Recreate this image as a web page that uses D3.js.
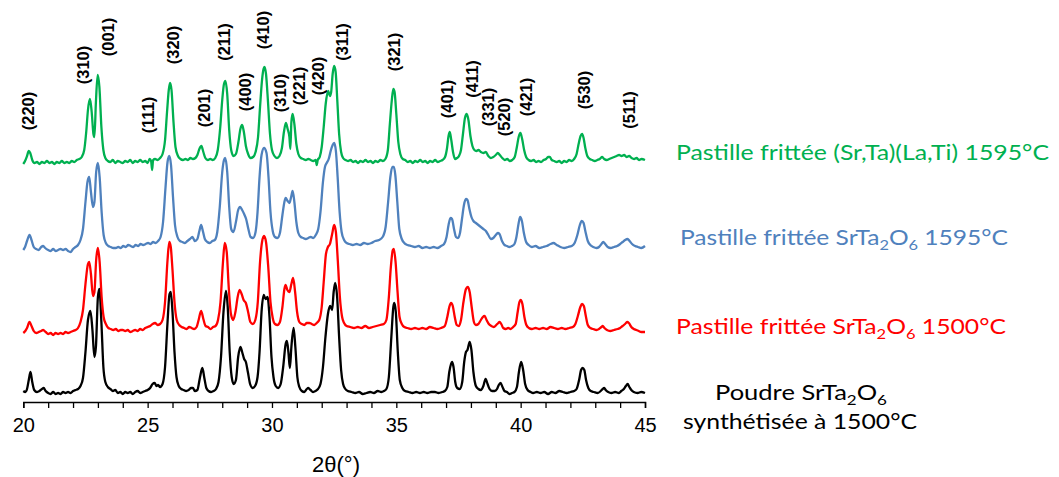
<!DOCTYPE html>
<html><head><meta charset="utf-8">
<script src="https://cdn.jsdelivr.net/npm/d3@7"></script>
<style>body{margin:0;background:#fff}svg{display:block}</style>
</head><body>
<svg id="c" width="1059" height="477"></svg>
<script>
// ---- data (2θ in degrees, relative intensity in arbitrary units) ----
const xTicksMajor = [20, 25, 30, 35, 40, 45];
const seriesNames = ["Poudre SrTa2O6 synthétisée à 1500°C", "Pastille frittée SrTa2O6 1500°C", "Pastille frittée SrTa2O6 1595°C", "Pastille frittée (Sr,Ta)(La,Ti) 1595°C"];
const seriesOffsets = [10, 70, 155, 240];
const seriesColors = ["#000000", "#FF0000", "#4F81BD", "#00B050"];

const blackPowder1500 = [[20.00,1],[20.08,0],[20.15,3],[20.22,12],[20.29,20],[20.36,10],[20.44,2],[20.55,0],[20.65,1],[20.75,3],[20.82,4],[20.9,1],[21.0,-1],[21.1,-2],[21.2,0],[21.3,-2],[21.4,-1],[21.5,-2],[21.6,0],[21.7,-1],[21.8,0],[21.9,-1],[22.0,1],[22.1,2],[22.2,3],[22.3,6],[22.4,14],[22.5,40],[22.6,72],[22.7,81],[22.78,62],[22.86,35],[22.92,45],[23.0,95],[23.06,103],[23.14,70],[23.22,25],[23.3,10],[23.4,5],[23.5,3],[23.6,1],[23.7,2],[23.8,-1],[23.9,0],[24.0,-2],[24.1,0],[24.2,-1],[24.3,0],[24.4,-2],[24.5,0],[24.6,1],[24.7,-1],[24.8,0],[24.9,1],[25.0,2],[25.1,4],[25.2,8],[25.28,9],[25.36,6],[25.42,7],[25.5,5],[25.6,8],[25.7,25],[25.8,70],[25.88,98],[25.93,100],[26.0,80],[26.08,40],[26.16,15],[26.25,6],[26.35,3],[26.45,2],[26.55,1],[26.65,2],[26.75,4],[26.82,4],[26.9,1],[27.0,2],[27.1,14],[27.2,24],[27.28,14],[27.36,4],[27.45,1],[27.55,0],[27.65,1],[27.75,3],[27.85,10],[27.95,35],[28.05,80],[28.15,101],[28.22,85],[28.3,40],[28.38,15],[28.46,8],[28.55,12],[28.64,35],[28.73,45],[28.8,40],[28.88,33],[28.95,30],[29.03,20],[29.12,8],[29.22,4],[29.32,6],[29.42,15],[29.5,40],[29.58,80],[29.67,97],[29.74,93],[29.82,95],[29.9,75],[29.98,35],[30.06,15],[30.15,6],[30.25,4],[30.35,8],[30.45,25],[30.55,48],[30.6,51],[30.66,40],[30.72,24],[30.78,45],[30.87,64],[30.94,45],[31.02,15],[31.1,5],[31.2,1],[31.3,0],[31.4,3],[31.46,4],[31.55,2],[31.65,0],[31.75,1],[31.85,3],[31.95,8],[32.05,25],[32.15,55],[32.25,78],[32.34,86],[32.42,82],[32.48,100],[32.54,109],[32.62,95],[32.7,55],[32.78,22],[32.86,8],[32.95,3],[33.05,1],[33.2,0],[33.35,-1],[33.5,0],[33.65,-2],[33.8,-1],[33.95,0],[34.1,-1],[34.25,1],[34.4,0],[34.5,1],[34.6,3],[34.7,15],[34.8,55],[34.88,85],[34.92,89],[34.98,80],[35.06,40],[35.14,12],[35.24,4],[35.35,1],[35.5,0],[35.65,-1],[35.8,0],[35.95,-1],[36.1,0],[36.25,-1],[36.4,0],[36.55,0],[36.7,-1],[36.85,0],[36.95,1],[37.05,5],[37.13,20],[37.2,28],[37.24,30],[37.3,25],[37.37,10],[37.45,4],[37.55,3],[37.65,10],[37.73,30],[37.8,40],[37.86,42],[37.95,50],[38.02,42],[38.1,20],[38.2,6],[38.3,3],[38.4,2],[38.5,6],[38.59,13],[38.67,8],[38.75,3],[38.85,1],[38.95,1],[39.05,3],[39.12,7],[39.19,9],[39.27,5],[39.35,1],[39.45,0],[39.55,-2],[39.65,-1],[39.75,0],[39.85,5],[39.93,20],[40.02,30],[40.1,22],[40.18,8],[40.28,2],[40.4,0],[40.5,-1],[40.65,0],[40.8,-1],[40.95,0],[41.1,-2],[41.25,0],[41.4,-1],[41.55,1],[41.7,0],[41.85,-1],[42.0,0],[42.15,1],[42.25,3],[42.35,12],[42.43,22],[42.49,24],[42.56,22],[42.63,12],[42.72,4],[42.82,1],[42.95,0],[43.1,-1],[43.22,1],[43.3,3],[43.36,4],[43.42,2],[43.52,0],[43.65,-1],[43.8,0],[43.95,-1],[44.05,1],[44.15,3],[44.23,6],[44.3,8],[44.37,5],[44.45,2],[44.55,0],[44.7,-1],[44.85,0],[45.0,-1]];

const redPellet1500 = [[20.0,-1],[20.08,1],[20.15,4],[20.25,10],[20.33,6],[20.42,1],[20.52,-1],[20.62,0],[20.72,1],[20.8,2],[20.9,0],[21.0,-2],[21.1,-1],[21.2,-3],[21.3,-1],[21.4,-2],[21.5,-1],[21.6,-2],[21.7,0],[21.8,-1],[21.9,0],[22.0,1],[22.1,2],[22.2,4],[22.3,10],[22.4,22],[22.5,48],[22.6,68],[22.65,70],[22.72,58],[22.8,36],[22.86,40],[22.93,72],[23.0,84],[23.07,70],[23.15,35],[23.23,15],[23.32,8],[23.42,4],[23.52,3],[23.62,2],[23.72,3],[23.82,1],[23.92,2],[24.0,2],[24.1,1],[24.2,2],[24.3,0],[24.4,1],[24.5,2],[24.6,1],[24.7,3],[24.8,2],[24.9,4],[25.0,5],[25.1,6],[25.2,8],[25.3,9],[25.4,7],[25.5,8],[25.6,12],[25.7,30],[25.8,72],[25.87,90],[25.93,85],[26.0,62],[26.08,30],[26.17,12],[26.27,7],[26.37,5],[26.47,4],[26.57,3],[26.67,5],[26.77,4],[26.87,3],[26.97,5],[27.05,12],[27.15,21],[27.24,13],[27.33,6],[27.43,5],[27.53,3],[27.63,5],[27.73,6],[27.83,12],[27.93,30],[28.03,70],[28.1,89],[28.18,80],[28.26,45],[28.35,18],[28.44,12],[28.53,20],[28.62,35],[28.7,42],[28.78,38],[28.86,32],[28.95,29],[29.04,20],[29.13,10],[29.23,8],[29.33,12],[29.43,30],[29.52,70],[29.6,90],[29.68,96],[29.76,90],[29.85,65],[29.94,30],[30.03,14],[30.12,8],[30.22,7],[30.32,10],[30.42,25],[30.5,43],[30.55,47],[30.62,42],[30.7,40],[30.78,48],[30.85,54],[30.93,40],[31.01,20],[31.1,10],[31.2,8],[31.3,7],[31.4,9],[31.5,9],[31.6,8],[31.7,7],[31.8,9],[31.9,12],[32.0,25],[32.08,50],[32.17,78],[32.25,85],[32.33,88],[32.42,98],[32.5,107],[32.57,100],[32.65,70],[32.73,35],[32.82,15],[32.9,9],[33.0,6],[33.15,5],[33.3,4],[33.45,5],[33.6,4],[33.75,6],[33.9,4],[34.05,5],[34.2,6],[34.35,7],[34.5,8],[34.6,12],[34.7,35],[34.78,65],[34.86,82],[34.9,83],[34.97,70],[35.05,40],[35.13,15],[35.22,8],[35.32,5],[35.45,4],[35.6,3],[35.75,4],[35.9,3],[36.05,4],[36.2,3],[36.35,5],[36.5,4],[36.65,3],[36.8,4],[36.95,6],[37.05,15],[37.13,25],[37.2,29],[37.27,26],[37.35,15],[37.43,7],[37.52,6],[37.6,12],[37.7,30],[37.8,43],[37.87,45],[37.95,40],[38.03,25],[38.12,10],[38.2,7],[38.3,8],[38.4,12],[38.48,15],[38.55,16],[38.63,12],[38.72,8],[38.82,6],[38.92,5],[39.02,7],[39.1,9],[39.15,10],[39.22,8],[39.3,4],[39.4,3],[39.5,4],[39.6,3],[39.7,5],[39.8,8],[39.88,20],[39.95,30],[40.0,32],[40.07,28],[40.15,15],[40.23,7],[40.33,4],[40.45,3],[40.6,4],[40.75,3],[40.9,4],[41.05,3],[41.2,5],[41.35,4],[41.5,3],[41.65,4],[41.8,3],[41.95,4],[42.1,5],[42.2,8],[42.3,16],[42.4,25],[42.47,28],[42.54,26],[42.62,16],[42.7,7],[42.8,4],[42.92,3],[43.05,2],[43.15,3],[43.25,5],[43.3,6],[43.37,4],[43.47,2],[43.6,1],[43.75,2],[43.9,3],[44.0,4],[44.1,6],[44.2,8],[44.28,10],[44.35,9],[44.45,5],[44.55,3],[44.65,2],[44.75,1],[44.85,0],[45.0,0]];

const bluePellet1595 = [[20.0,-3],[20.07,0],[20.15,6],[20.25,12],[20.33,7],[20.42,0],[20.52,-2],[20.62,-3],[20.72,0],[20.8,1],[20.88,-1],[21.0,-3],[21.1,-4],[21.2,-2],[21.3,-4],[21.4,-3],[21.5,-2],[21.6,-3],[21.7,-2],[21.8,-4],[21.9,-5],[22.0,-2],[22.1,0],[22.2,2],[22.3,7],[22.4,18],[22.5,45],[22.58,65],[22.65,70],[22.72,55],[22.8,40],[22.86,45],[22.93,75],[23.0,84],[23.07,70],[23.15,35],[23.23,12],[23.32,4],[23.42,1],[23.52,0],[23.62,-1],[23.72,-1],[23.82,0],[23.92,-1],[24.02,1],[24.12,0],[24.22,2],[24.32,1],[24.42,0],[24.52,2],[24.62,1],[24.72,3],[24.82,2],[24.92,3],[25.02,4],[25.12,3],[25.22,5],[25.32,4],[25.42,6],[25.52,10],[25.62,25],[25.72,60],[25.8,85],[25.87,91],[25.94,82],[26.02,50],[26.1,22],[26.2,10],[26.3,6],[26.4,5],[26.5,4],[26.6,6],[26.7,8],[26.8,10],[26.9,6],[27.0,8],[27.08,16],[27.15,22],[27.22,16],[27.3,8],[27.4,5],[27.5,4],[27.6,6],[27.7,7],[27.8,15],[27.9,40],[28.0,75],[28.07,87],[28.12,89],[28.2,75],[28.28,40],[28.36,18],[28.45,15],[28.55,25],[28.64,37],[28.72,40],[28.8,37],[28.88,33],[28.96,28],[29.05,18],[29.14,10],[29.24,9],[29.34,15],[29.42,35],[29.5,70],[29.58,92],[29.68,99],[29.78,94],[29.86,70],[29.94,35],[30.03,16],[30.12,10],[30.22,9],[30.32,14],[30.42,32],[30.5,45],[30.55,49],[30.63,46],[30.7,44],[30.77,50],[30.83,56],[30.9,45],[30.98,25],[31.06,14],[31.16,10],[31.26,9],[31.36,8],[31.46,9],[31.56,10],[31.66,9],[31.76,12],[31.86,18],[31.95,35],[32.05,65],[32.13,80],[32.2,84],[32.28,88],[32.36,96],[32.44,102],[32.5,104],[32.57,96],[32.64,70],[32.72,35],[32.8,15],[32.9,7],[33.0,4],[33.12,3],[33.25,2],[33.4,3],[33.55,2],[33.7,4],[33.85,3],[34.0,4],[34.15,6],[34.3,7],[34.45,10],[34.57,20],[34.67,45],[34.76,70],[34.84,80],[34.9,80],[34.96,72],[35.04,45],[35.12,18],[35.22,8],[35.32,4],[35.45,2],[35.6,1],[35.75,0],[35.9,1],[36.05,-1],[36.2,0],[36.35,-1],[36.5,0],[36.65,-1],[36.8,1],[36.92,3],[37.02,10],[37.1,22],[37.18,29],[37.24,28],[37.32,18],[37.4,10],[37.48,9],[37.56,14],[37.64,28],[37.72,42],[37.8,48],[37.86,47],[37.94,38],[38.02,30],[38.1,26],[38.2,24],[38.3,22],[38.4,20],[38.5,18],[38.6,16],[38.7,12],[38.8,8],[38.9,9],[39.0,12],[39.08,14],[39.15,13],[39.25,6],[39.35,2],[39.45,1],[39.55,0],[39.65,1],[39.75,3],[39.83,10],[39.92,24],[39.98,30],[40.05,26],[40.13,14],[40.22,5],[40.32,2],[40.45,0],[40.6,1],[40.75,-1],[40.9,0],[41.05,1],[41.2,3],[41.32,4],[41.45,2],[41.6,0],[41.75,-1],[41.9,0],[42.05,1],[42.17,4],[42.28,12],[42.38,22],[42.46,26],[42.53,24],[42.6,16],[42.7,6],[42.8,2],[42.92,0],[43.05,-1],[43.15,0],[43.25,3],[43.32,5],[43.4,3],[43.5,0],[43.62,-1],[43.75,0],[43.88,1],[44.0,3],[44.1,5],[44.2,7],[44.3,8],[44.38,6],[44.48,3],[44.6,1],[44.72,0],[44.85,-1],[45.0,1]];

const greenPelletLaTi1595 = [[20.0,-2],[20.07,1],[20.15,6],[20.22,11],[20.28,9],[20.36,2],[20.45,-1],[20.55,0],[20.65,-2],[20.75,0],[20.85,-1],[20.95,1],[21.05,-1],[21.15,0],[21.25,-2],[21.35,0],[21.45,-1],[21.55,1],[21.65,-1],[21.75,0],[21.85,-1],[21.95,1],[22.05,0],[22.15,2],[22.25,3],[22.35,5],[22.45,12],[22.53,30],[22.6,52],[22.68,63],[22.75,50],[22.82,28],[22.86,25],[22.92,60],[22.99,87],[23.06,75],[23.14,35],[23.22,12],[23.3,4],[23.4,1],[23.5,0],[23.6,2],[23.7,-1],[23.8,1],[23.9,0],[24.0,-1],[24.1,1],[24.2,0],[24.3,2],[24.4,-1],[24.5,1],[24.6,0],[24.7,2],[24.8,0],[24.9,1],[25.0,-1],[25.08,3],[25.14,1],[25.18,-8],[25.22,2],[25.3,3],[25.4,2],[25.5,4],[25.6,8],[25.7,22],[25.78,50],[25.85,72],[25.9,79],[25.96,72],[26.04,40],[26.12,15],[26.22,6],[26.32,3],[26.42,2],[26.52,3],[26.62,2],[26.72,4],[26.82,3],[26.92,4],[27.0,7],[27.08,13],[27.16,16],[27.24,10],[27.32,4],[27.42,2],[27.52,3],[27.62,2],[27.72,4],[27.82,12],[27.92,35],[28.0,62],[28.07,78],[28.13,81],[28.2,68],[28.28,32],[28.36,12],[28.45,6],[28.55,8],[28.65,20],[28.73,33],[28.8,37],[28.87,30],[28.95,16],[29.04,8],[29.14,4],[29.24,5],[29.34,10],[29.44,25],[29.52,55],[29.6,82],[29.66,93],[29.7,95],[29.76,88],[29.84,60],[29.92,28],[30.0,12],[30.1,6],[30.2,4],[30.3,6],[30.4,14],[30.48,30],[30.56,39],[30.63,33],[30.7,25],[30.74,13],[30.78,40],[30.83,48],[30.9,38],[30.98,18],[31.06,8],[31.16,4],[31.26,3],[31.36,2],[31.46,3],[31.56,2],[31.66,1],[31.76,2],[31.8,-3],[31.84,2],[31.92,5],[32.0,15],[32.08,35],[32.16,58],[32.26,71],[32.33,66],[32.38,70],[32.44,88],[32.5,96],[32.56,90],[32.63,60],[32.7,28],[32.78,10],[32.86,4],[32.96,2],[33.06,1],[33.16,2],[33.26,0],[33.36,1],[33.46,-1],[33.56,1],[33.66,0],[33.76,2],[33.86,0],[33.96,1],[34.06,-1],[34.16,1],[34.26,0],[34.36,2],[34.46,1],[34.56,3],[34.66,12],[34.74,38],[34.82,62],[34.88,73],[34.93,70],[35.0,48],[35.08,20],[35.16,8],[35.26,3],[35.36,2],[35.46,0],[35.56,1],[35.66,-1],[35.76,1],[35.86,0],[35.96,2],[36.06,0],[36.16,1],[36.26,-1],[36.36,1],[36.46,0],[36.56,2],[36.66,0],[36.76,1],[36.86,2],[36.96,5],[37.04,14],[37.1,26],[37.15,30],[37.21,22],[37.28,10],[37.36,3],[37.44,4],[37.52,6],[37.6,12],[37.68,28],[37.76,44],[37.83,48],[37.9,42],[37.98,26],[38.06,16],[38.14,12],[38.22,11],[38.3,12],[38.4,10],[38.5,9],[38.6,10],[38.7,6],[38.8,4],[38.9,5],[39.0,7],[39.08,9],[39.16,7],[39.26,4],[39.36,2],[39.46,3],[39.56,1],[39.66,2],[39.76,5],[39.84,14],[39.92,25],[39.99,29],[40.06,23],[40.14,12],[40.22,5],[40.32,2],[40.42,1],[40.52,2],[40.62,0],[40.72,1],[40.82,0],[40.92,2],[41.02,3],[41.1,5],[41.17,5],[41.25,2],[41.35,1],[41.45,0],[41.55,1],[41.65,-1],[41.75,1],[41.85,0],[41.95,2],[42.05,1],[42.15,3],[42.25,8],[42.33,18],[42.41,26],[42.47,28],[42.53,24],[42.6,14],[42.68,6],[42.78,3],[42.88,2],[42.98,1],[43.08,2],[43.18,3],[43.28,5],[43.36,3],[43.46,2],[43.56,3],[43.66,4],[43.76,5],[43.86,6],[43.96,7],[44.06,6],[44.16,7],[44.26,5],[44.36,6],[44.46,4],[44.56,3],[44.66,4],[44.76,2],[44.86,3],[45.0,2]];

// Miller index annotations: label, 2θ position, label centre height (same intensity units)
const hklLabels = ["(220)","(310)","(001)","(111)","(320)","(201)","(211)","(400)","(410)","(310)","(221)","(420)","(311)","(321)","(401)","(411)","(331)","(520)","(421)","(530)","(511)"];
const hklTheta  = [20.2, 22.4, 23.4, 25.0, 26.0, 27.25, 28.07, 28.9, 29.65, 30.33, 31.1, 31.85, 32.83, 34.9, 37.05, 38.05, 38.7, 39.35, 40.2, 42.55, 44.35];
const hklLevel  = [291, 337, 365, 287, 357, 294, 360, 310, 372, 309, 316, 326, 360, 350, 303, 323, 295, 285, 305, 312, 292];

const allSeries = [blackPowder1500, redPellet1500, bluePellet1595, greenPelletLaTi1595];

// ---- drawing ----
const svg = d3.select("#c");
const x = d3.scaleLinear().domain([20, 45]).range([23.3, 645]);
const y = d3.scaleLinear().domain([0, 340]).range([402, 62]);

const line = d3.line().x(d => x(d[0])).y(d => y(d[1])).curve(d3.curveMonotoneX);

allSeries.forEach((s, i) => {
  const off = seriesOffsets[i];
  svg.append("path")
    .datum(s.map(d => [d[0], d[1] + off]))
    .attr("d", line)
    .attr("fill", "none")
    .attr("stroke", seriesColors[i])
    .attr("stroke-width", 2.3)
    .attr("stroke-linejoin", "round");
});

// x axis
const axis = d3.axisBottom(x).tickValues(d3.range(20, 46, 1)).tickSize(6)
  .tickFormat(d => xTicksMajor.includes(d) ? d : "");
const gx = svg.append("g").attr("transform", `translate(0,${y(0)})`).call(axis);
gx.select(".domain").attr("stroke", "#000").attr("stroke-width", 1.5);
gx.selectAll(".tick line").attr("stroke", "#000").attr("stroke-width", 1.3);
gx.selectAll(".tick text").attr("font-family", "Liberation Sans, Arial, sans-serif")
  .attr("font-size", 20).attr("fill", "#000").attr("dy", "1.05em");

svg.append("text").attr("x", 336).attr("y", 472)
  .attr("text-anchor", "middle").attr("font-family", "Liberation Sans, Arial, sans-serif")
  .attr("font-size", 22).attr("fill", "#000").text("2θ(°)");

// hkl labels
hklLabels.forEach((lab, i) => {
  const px = x(hklTheta[i]), py = y(hklLevel[i]);
  svg.append("text")
    .attr("transform", `translate(${px},${py}) rotate(-90)`)
    .attr("text-anchor", "middle").attr("dominant-baseline", "central")
    .attr("font-family", "Liberation Sans, Arial, sans-serif").attr("font-weight", "bold")
    .attr("font-size", 16.5).attr("fill", "#000").text(lab);
});

// series labels
const lf = "Lato, 'Open Sans', sans-serif";
function label(parts, xx, yy, color, len) {
  const t = svg.append("text").attr("x", xx).attr("y", yy).attr("fill", color)
    .attr("font-family", lf).attr("font-size", 21);
  parts.forEach(p => {
    const ts = t.append("tspan").text(p[0]);
    if (p[1] === "sub") ts.attr("font-size", 14).attr("dy", 5);
    else if (p[1] === "up") ts.attr("dy", -5);
  });
  if (len) t.attr("textLength", len).attr("lengthAdjust", "spacingAndGlyphs");
  return t;
}
label([["Pastille frittée (Sr,Ta)(La,Ti) 1595°C"]], 676, 160, seriesColors[3], 373);
label([["Pastille frittée SrTa"],["2","sub"],["O","up"],["6","sub"],[" 1595°C","up"]], 680, 245, seriesColors[2], 328);
label([["Pastille frittée SrTa"],["2","sub"],["O","up"],["6","sub"],[" 1500°C","up"]], 676, 334, seriesColors[1], 330);
label([["Poudre SrTa"],["2","sub"],["O","up"],["6","sub"]], 715, 400, seriesColors[0], 172);
label([["synthétisée à 1500°C"]], 683, 429, seriesColors[0], 234);
</script>
</body></html>
